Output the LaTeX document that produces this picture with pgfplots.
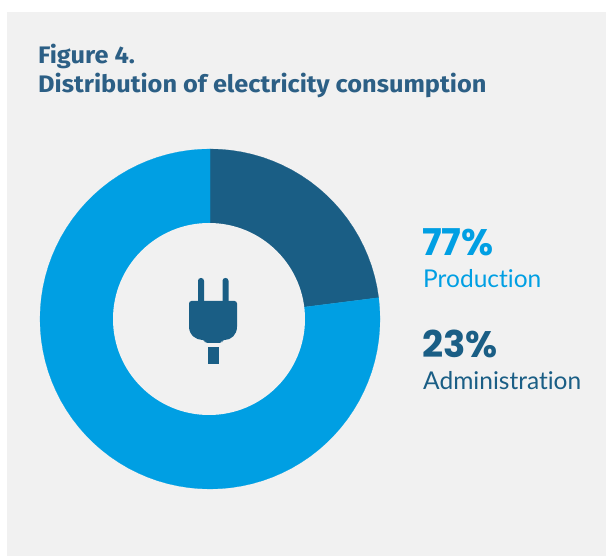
\documentclass[border=0pt]{standalone}
\usepackage{pgfplots}
\pgfplotsset{compat=1.18}
\usepackage{fontspec}
\setmainfont[Ligatures=NoCommon]{Lato}
\newfontfamily\titlefont[FakeStretch=1.06]{Fira Sans}
\newfontfamily\numfont{Poppins}
\definecolor{panel}{HTML}{F1F1F1}
\definecolor{deep}{HTML}{1A5E85}
\definecolor{titleblue}{HTML}{2C5F85}
\definecolor{sky}{HTML}{009FE3}
\begin{document}
\begin{tikzpicture}[x=1bp,y=1bp]
% page and panel
\path[fill=white] (0,0) rectangle (606,556);
\path[fill=panel] (7,0) rectangle (606,544);
% donut: angle runs clockwise from the top, one percent per step
\begin{axis}[
  at={(210bp,237bp)}, anchor=center,
  scale only axis, width=340bp, height=340bp,
  xmin=-1, xmax=1, ymin=-1, ymax=1,
  hide axis, clip=false,
  x filter/.expression={90-3.6*x},
  data cs=polar,
]
% Administration, 23 %
\addplot[fill=deep, draw=deep, line width=0.2bp] coordinates {
  (0,0) (0,1) (1,1) (2,1) (3,1) (4,1) (5,1) (6,1) (7,1) (8,1) (9,1) (10,1) (11,1)
  (12,1) (13,1) (14,1) (15,1) (16,1) (17,1) (18,1) (19,1) (20,1) (21,1) (22,1) (23,1)
} -- cycle;
% Production, 77 %
\addplot[fill=sky, draw=sky, line width=0.2bp] coordinates {
  (0,0) (23,1) (24,1) (25,1) (26,1) (27,1) (28,1) (29,1) (30,1) (31,1) (32,1) (33,1)
  (34,1) (35,1) (36,1) (37,1) (38,1) (39,1) (40,1) (41,1) (42,1) (43,1) (44,1) (45,1)
  (46,1) (47,1) (48,1) (49,1) (50,1) (51,1) (52,1) (53,1) (54,1) (55,1) (56,1) (57,1)
  (58,1) (59,1) (60,1) (61,1) (62,1) (63,1) (64,1) (65,1) (66,1) (67,1) (68,1) (69,1)
  (70,1) (71,1) (72,1) (73,1) (74,1) (75,1) (76,1) (77,1) (78,1) (79,1) (80,1) (81,1)
  (82,1) (83,1) (84,1) (85,1) (86,1) (87,1) (88,1) (89,1) (90,1) (91,1) (92,1) (93,1)
  (94,1) (95,1) (96,1) (97,1) (98,1) (99,1) (100,1)
} -- cycle;
\end{axis}
% hole of the ring
\fill[panel] (209,237) circle[radius=96];
% plug symbol
\begin{scope}[deep]
  \fill[rounded corners=2.8] (198,250) rectangle (204,278);
  \fill[rounded corners=2.8] (222.5,250) rectangle (228.5,278);
  \fill[rounded corners=2.5] (189,255) -- (237,255) -- (237,232)
     .. controls (237,221) and (231,216) .. (222,216) -- (222,213) -- (205,213) -- (205,216)
     .. controls (196,216) and (189,221) .. (189,232) -- cycle;
  \fill (208,192) rectangle (219,209);
\end{scope}
% heading
\node[anchor=base west, inner sep=0, text=titleblue, font=\titlefont\bfseries\fontsize{24}{24}\selectfont] at (38,492) {Figure 4.};
\node[anchor=base west, inner sep=0, text=titleblue, font=\titlefont\bfseries\fontsize{24}{24}\selectfont] at (38,463) {Distribution of electricity consumption};
% shares
\node[anchor=base west, inner sep=0, text=sky, font=\numfont\bfseries\fontsize{37}{37}\selectfont] at (422,300) {77\%};
\node[anchor=base west, inner sep=0, text=sky, font=\fontsize{24.6}{24.6}\selectfont] at (423,268) {Production};
\node[anchor=base west, inner sep=0, text=deep, font=\numfont\bfseries\fontsize{37}{37}\selectfont] at (422,198) {23\%};
\node[anchor=base west, inner sep=0, text=deep, font=\fontsize{24.6}{24.6}\selectfont] at (423,166) {Administration};
\end{tikzpicture}
\end{document}
